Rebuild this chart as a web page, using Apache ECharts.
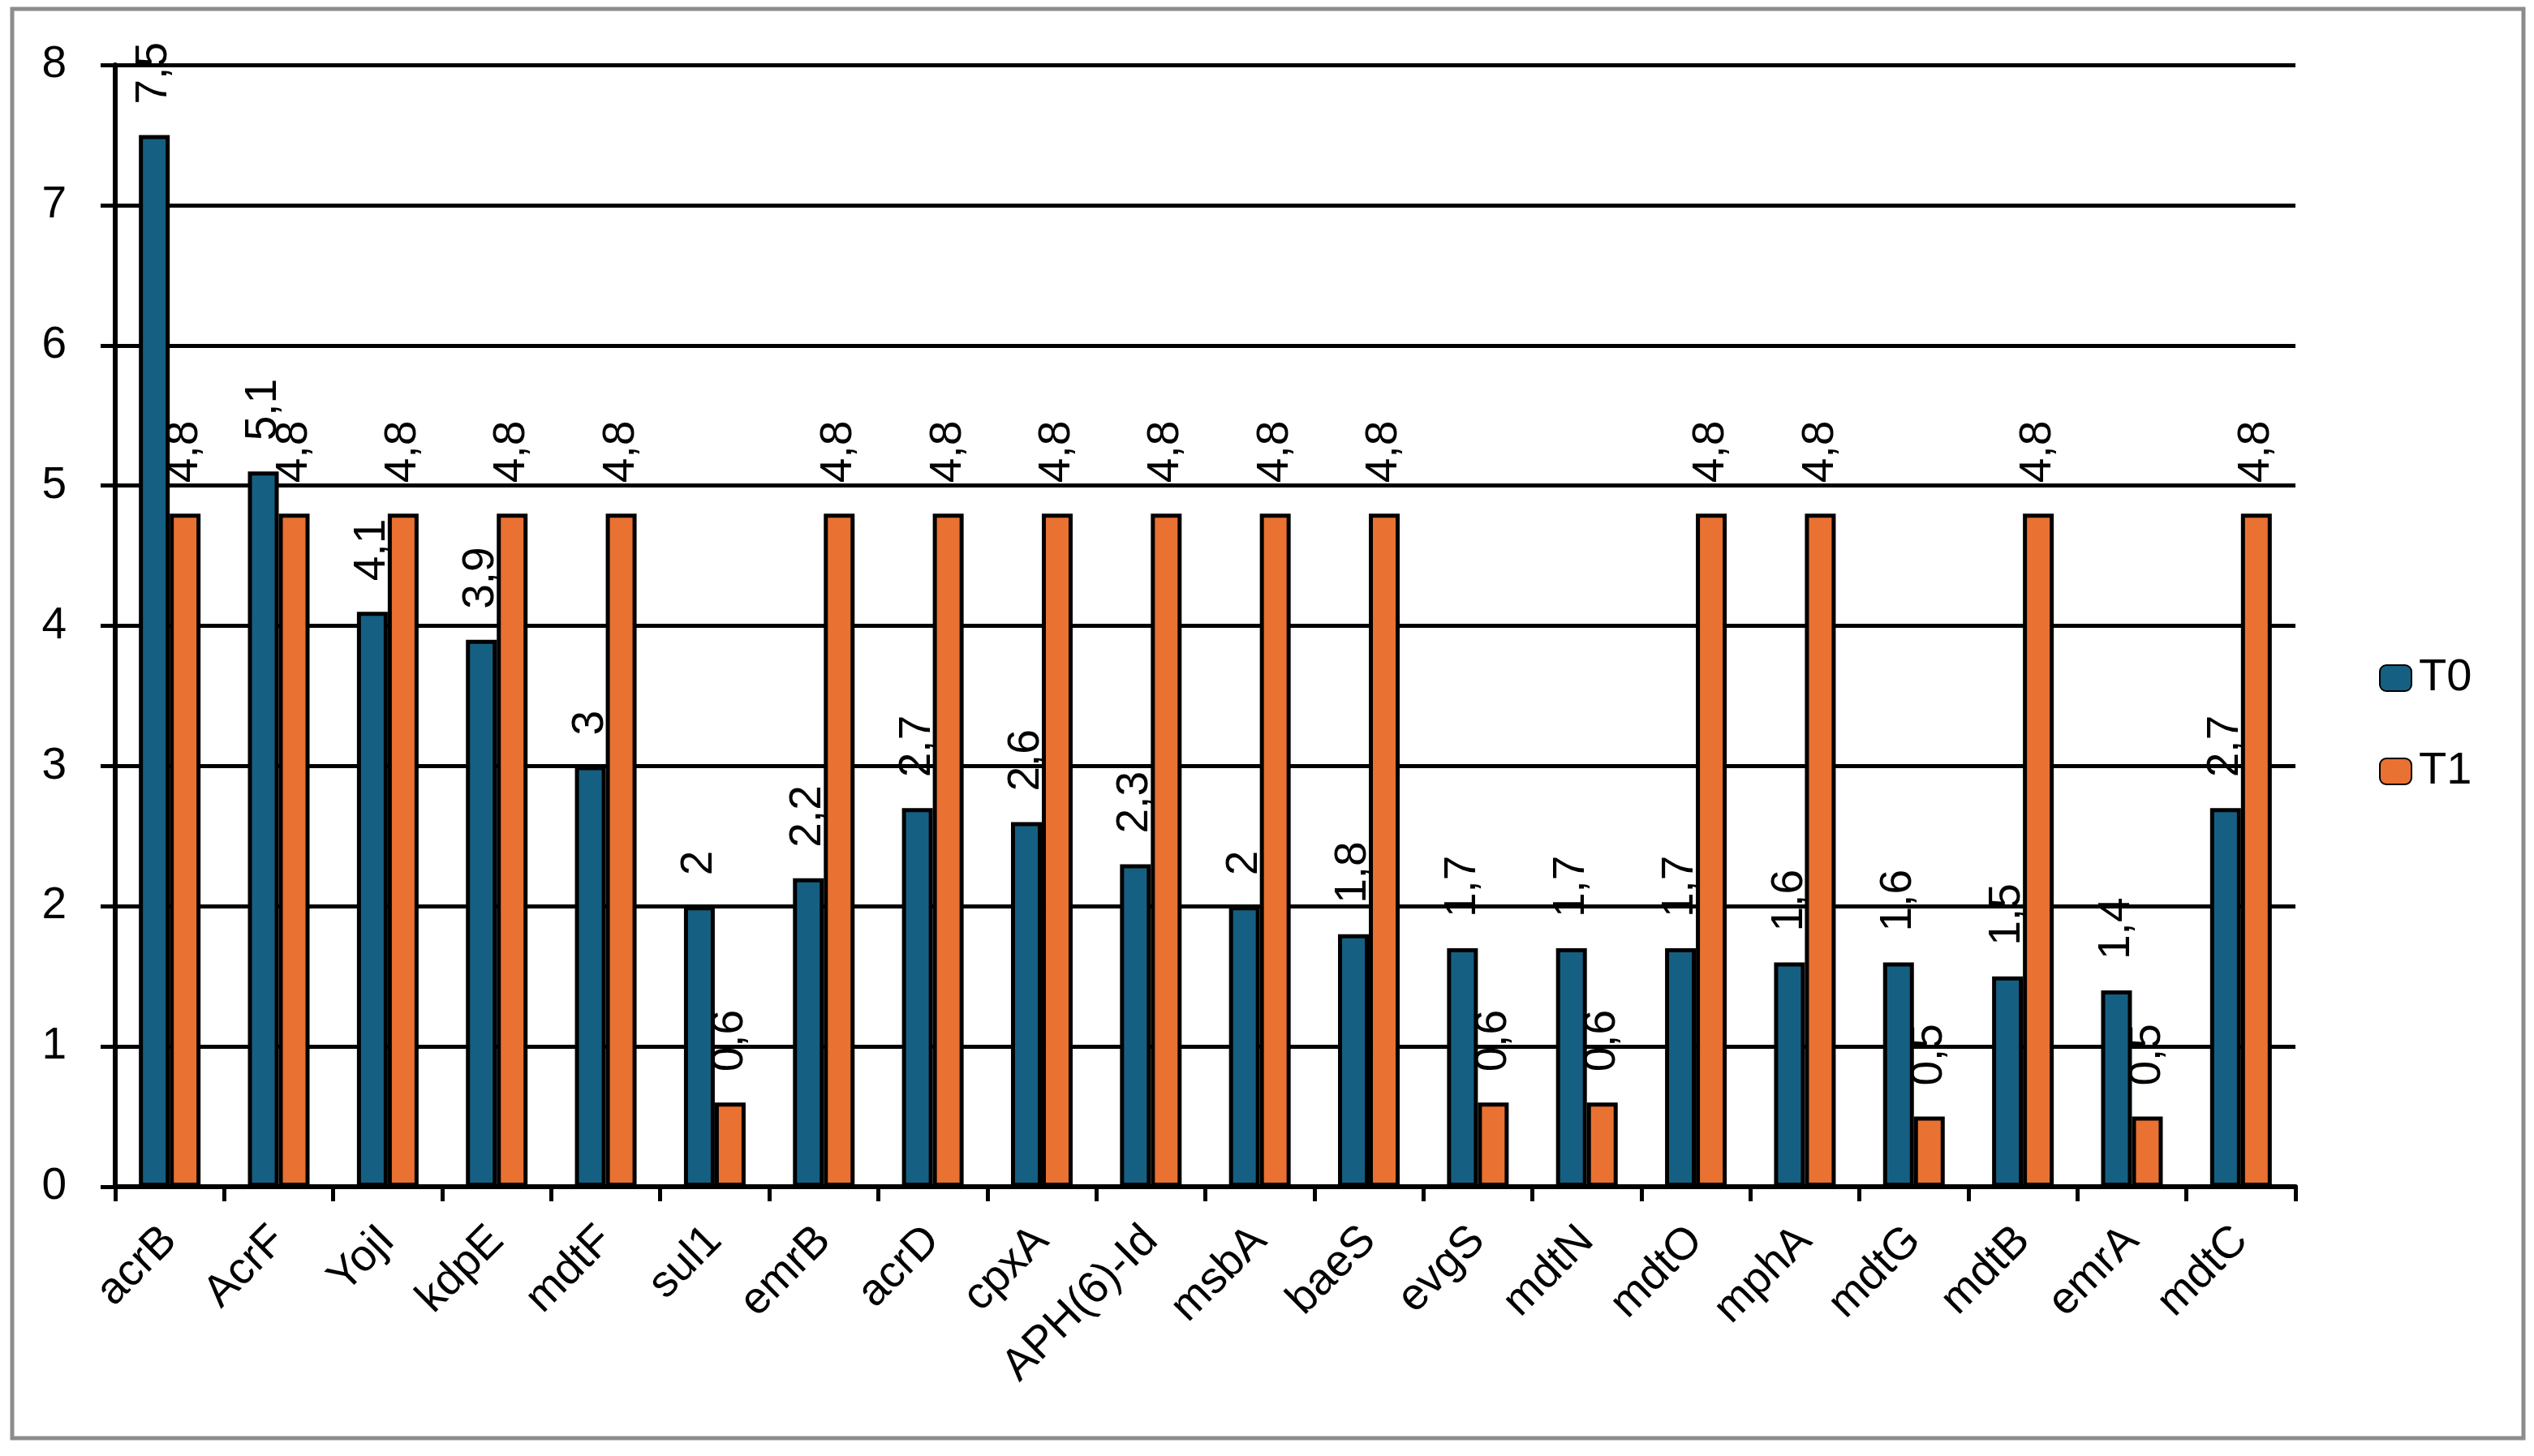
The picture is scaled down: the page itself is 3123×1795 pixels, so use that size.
<!DOCTYPE html>
<html>
<head>
<meta charset="utf-8">
<script src="https://cdn.jsdelivr.net/npm/echarts@6/dist/echarts.min.js"></script>
<style>
html,body{margin:0;padding:0;background:#fff;}
#chart{width:3123px;height:1795px;}
</style>
</head>
<body>
<div id="chart"></div>
<script>
const categories = ['acrB','AcrF','YojI','kdpE','mdtF','sul1','emrB','acrD','cpxA','APH(6)-Id','msbA','baeS','evgS','mdtN','mdtO','mphA','mdtG','mdtB','emrA','mdtC'];
const t0Values = [7.5,5.1,4.1,3.9,3,2,2.2,2.7,2.6,2.3,2,1.8,1.7,1.7,1.7,1.6,1.6,1.5,1.4,2.7];
const t1Values = [4.8,4.8,4.8,4.8,4.8,0.6,4.8,4.8,4.8,4.8,4.8,4.8,0.6,0.6,4.8,4.8,0.5,4.8,0.5,4.8];
const yTicks = [0,1,2,3,4,5,6,7,8];

const FONT = 'Liberation Sans';
const FS = 55;
const chart = echarts.init(document.getElementById('chart'));

const labelCfg = {
  show: true,
  position: 'top',
  rotate: 90,
  align: 'left',
  verticalAlign: 'middle',
  distance: 38,
  color: '#000',
  fontSize: FS,
  fontFamily: FONT,
  formatter: p => String(p.value).replace('.', ',')
};

chart.setOption({
  animation: false,
  backgroundColor: '#fff',
  textStyle: {fontFamily: FONT},
  graphic: [{
    type: 'rect',
    shape: {x: 15, y: 11, width: 3095, height: 1762},
    style: {fill: 'none', stroke: '#8c8c8c', lineWidth: 5},
    z: -1
  }],
  grid: {left: 142, right: 294, top: 80, bottom: 332, containLabel: false},
  legend: {
    orient: 'vertical',
    left: 2927,
    top: 803,
    icon: 'roundRect',
    itemWidth: 39,
    itemHeight: 32,
    itemGap: 59,
    textStyle: {fontSize: 56, color: '#000', fontFamily: FONT, padding: [0,0,0,4]},
    data: ['T0','T1']
  },
  xAxis: {
    type: 'category',
    data: categories,
    axisLine: {lineStyle: {color: '#000', width: 6}},
    axisTick: {show: true, length: 18, lineStyle: {color: '#000', width: 5}},
    axisLabel: {rotate: 45, fontSize: FS, color: '#000', margin: 58, interval: 0, fontFamily: FONT}
  },
  yAxis: {
    type: 'value',
    min: yTicks[0],
    max: yTicks[yTicks.length - 1],
    interval: 1,
    axisLine: {show: true, lineStyle: {color: '#000', width: 6}},
    axisTick: {show: true, length: 18, lineStyle: {color: '#000', width: 5}},
    axisLabel: {fontSize: FS, color: '#000', margin: 60, fontFamily: FONT, padding: [0,0,10,0]},
    splitLine: {show: true, lineStyle: {color: '#000', width: 5}}
  },
  series: [
    {
      name: 'T0', type: 'bar', data: t0Values, barWidth: 38, barGap: '0%',
      itemStyle: {color: '#156082', borderColor: '#000', borderWidth: 5},
      label: labelCfg
    },
    {
      name: 'T1', type: 'bar', data: t1Values, barWidth: 38,
      itemStyle: {color: '#E97132', borderColor: '#000', borderWidth: 5},
      label: labelCfg
    }
  ]
});
</script>
</body>
</html>
